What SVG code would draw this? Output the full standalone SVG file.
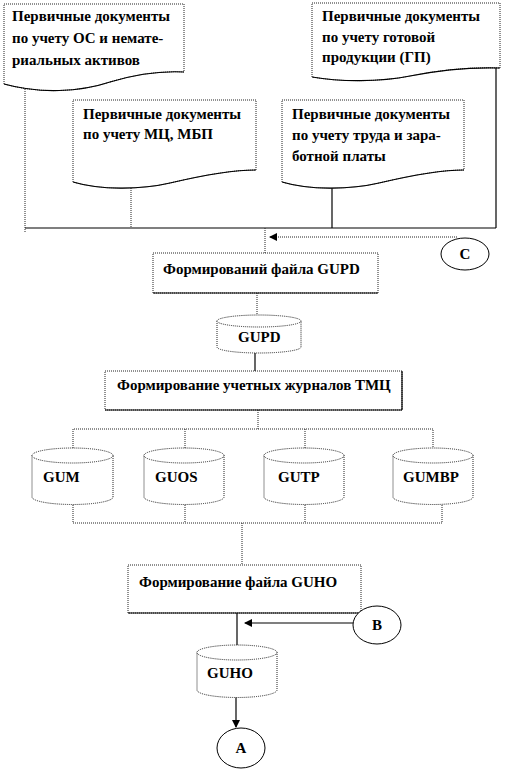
<svg xmlns="http://www.w3.org/2000/svg" width="508" height="771" viewBox="0 0 508 771">
<style>
  text { font-family: "Liberation Serif", "Times New Roman", serif; font-weight: bold; font-size: 15px; fill: #000; }
  .dot { fill: none; stroke: #222; stroke-width: 1; stroke-dasharray: 1 1; }
  .sol { fill: none; stroke: #000; stroke-width: 1.2; }
  .shape { fill: #fff; stroke: #222; stroke-width: 1; stroke-dasharray: 1 1; }
  .circ { fill: #fff; stroke: #000; stroke-width: 1; }
</style>
<defs>
  <marker id="arr" markerWidth="8" markerHeight="8" refX="7" refY="4" orient="auto" markerUnits="userSpaceOnUse">
    <path d="M0,0 L8,4 L0,8 Z" fill="#000"/>
  </marker>
</defs>

<g id="connectors">
  <line class="dot" x1="25" y1="89" x2="25" y2="233"/>
  <line class="dot" x1="131" y1="188" x2="131" y2="228"/>
  <line class="sol" x1="332" y1="187" x2="332" y2="228"/>
  <line class="sol" x1="496" y1="60" x2="496" y2="228"/>
  <line class="sol" x1="25" y1="228" x2="496" y2="228"/>
  <line class="dot" x1="265" y1="228" x2="265" y2="253"/>
  <line class="dot" x1="457" y1="237" x2="270" y2="237" marker-end="url(#arr)"/>
  <line class="dot" x1="257" y1="293" x2="257" y2="316"/>
  <line class="sol" x1="255" y1="353" x2="255" y2="371"/>
  <line class="dot" x1="258" y1="410" x2="258" y2="429"/>
  <polyline class="dot" points="73,448 73,429 433,429 433,448"/>
  <line class="dot" x1="185" y1="429" x2="185" y2="448"/>
  <line class="dot" x1="305" y1="429" x2="305" y2="448"/>
  <polyline class="dot" points="73,505 73,523 442,523 442,505"/>
  <line class="dot" x1="185" y1="505" x2="185" y2="523"/>
  <line class="dot" x1="305" y1="505" x2="305" y2="523"/>
  <line class="dot" x1="242" y1="523" x2="242" y2="565"/>
  <line class="sol" x1="237" y1="613" x2="237" y2="645"/>
  <line class="sol" x1="353" y1="623" x2="245" y2="623" marker-end="url(#arr)"/>
  <line class="sol" x1="236" y1="697" x2="236" y2="727" marker-end="url(#arr)"/>
</g>

<g id="doc-os">
  <path class="shape" d="M4,84 V4 H184 V72 C165,71 140,73 110,82 C80,92 40,94 4,84 Z"/>
  <path class="sol" d="M4,84 C40,94 80,92 110,82 C140,73 165,71 184,72"/>
  <text x="12" y="21">Первичные документы</text>
  <text x="12" y="43">по учету ОС и немате-</text>
  <text x="12" y="65">риальных активов</text>
</g>

<g id="doc-gp">
  <path class="shape" d="M312,77 V3 H500 V68 C470,67 440,70 410,76 C380,82 340,82 312,77 Z"/>
  <path class="sol" d="M312,77 C340,82 380,82 410,76 C440,70 470,67 500,68"/>
  <text x="322" y="21">Первичные документы</text>
  <text x="322" y="42">по учету готовой</text>
  <text x="322" y="62">продукции (ГП)</text>
</g>

<g id="doc-mc">
  <path class="shape" d="M73,182 V100 H256 V170 C230,170 200,176 170,183 C140,190 100,190 73,182 Z"/>
  <path class="sol" d="M73,182 C100,190 140,190 170,183 C200,176 230,170 256,170"/>
  <text x="83" y="119">Первичные документы</text>
  <text x="83" y="139">по учету МЦ, МБП</text>
</g>

<g id="doc-trud">
  <path class="shape" d="M282,182 V100 H464 V170 C438,170 409,176 379,183 C349,190 309,190 282,182 Z"/>
  <path class="sol" d="M282,182 C309,190 349,190 379,183 C409,176 438,170 464,170"/>
  <text x="292" y="119">Первичные документы</text>
  <text x="292" y="140">по учету труда и зара-</text>
  <text x="292" y="161">ботной платы</text>
</g>

<g id="circle-c">
  <ellipse class="circ" cx="465" cy="254" rx="24" ry="16"/>
  <text x="465" y="259" text-anchor="middle">C</text>
</g>

<g id="box-gupd">
  <rect class="shape" x="153" y="253" width="225" height="40"/>
  <line class="sol" x1="153" y1="293" x2="378" y2="293"/>
  <text x="163" y="274">Формирований файла GUPD</text>
</g>

<g id="db-gupd">
  <path class="shape" d="M217,321 V347 A42,6 0 0 0 301,347 V321"/>
  <ellipse class="shape" cx="259" cy="321" rx="42" ry="6"/>
  <text x="238" y="342">GUPD</text>
</g>

<g id="box-tmc">
  <rect class="shape" x="105" y="371" width="297" height="39"/>
  <line class="sol" x1="105" y1="410" x2="402" y2="410"/>
  <line class="sol" x1="402" y1="371" x2="402" y2="410"/>
  <text x="117" y="390">Формирование учетных журналов ТМЦ</text>
</g>

<g id="db-gum">
  <path class="shape" d="M32,455.5 V497 A40.5,7.5 0 0 0 113,497 V455.5"/>
  <ellipse class="shape" cx="72.5" cy="455.5" rx="40.5" ry="7.5"/>
  <text x="43" y="482">GUM</text>
</g>

<g id="db-guos">
  <path class="shape" d="M144,455.5 V497 A40,7.5 0 0 0 224,497 V455.5"/>
  <ellipse class="shape" cx="184" cy="455.5" rx="40" ry="7.5"/>
  <text x="155" y="482">GUOS</text>
</g>

<g id="db-gutp">
  <path class="shape" d="M264,455.5 V497 A40,7.5 0 0 0 344,497 V455.5"/>
  <ellipse class="shape" cx="304" cy="455.5" rx="40" ry="7.5"/>
  <text x="278" y="482">GUTP</text>
</g>

<g id="db-gumbp">
  <path class="shape" d="M393,455.5 V497 A40,7.5 0 0 0 473,497 V455.5"/>
  <ellipse class="shape" cx="433" cy="455.5" rx="40" ry="7.5"/>
  <text x="403" y="482">GUMBP</text>
</g>

<g id="box-guho">
  <rect class="shape" x="128" y="565" width="233" height="48"/>
  <line class="sol" x1="128" y1="613" x2="361" y2="613"/>
  <text x="139" y="587">Формирование файла GUHO</text>
</g>

<g id="circle-b">
  <ellipse class="circ" cx="377" cy="625" rx="24" ry="19"/>
  <text x="377" y="630" text-anchor="middle">B</text>
</g>

<g id="db-guho">
  <path class="shape" d="M197,652.5 V690 A40,7.5 0 0 0 277,690 V652.5"/>
  <ellipse class="shape" cx="237" cy="652.5" rx="40" ry="7.5"/>
  <text x="207" y="678">GUHO</text>
</g>

<g id="circle-a">
  <ellipse class="circ" cx="241" cy="748" rx="24" ry="20"/>
  <text x="241" y="753" text-anchor="middle">A</text>
</g>
</svg>
